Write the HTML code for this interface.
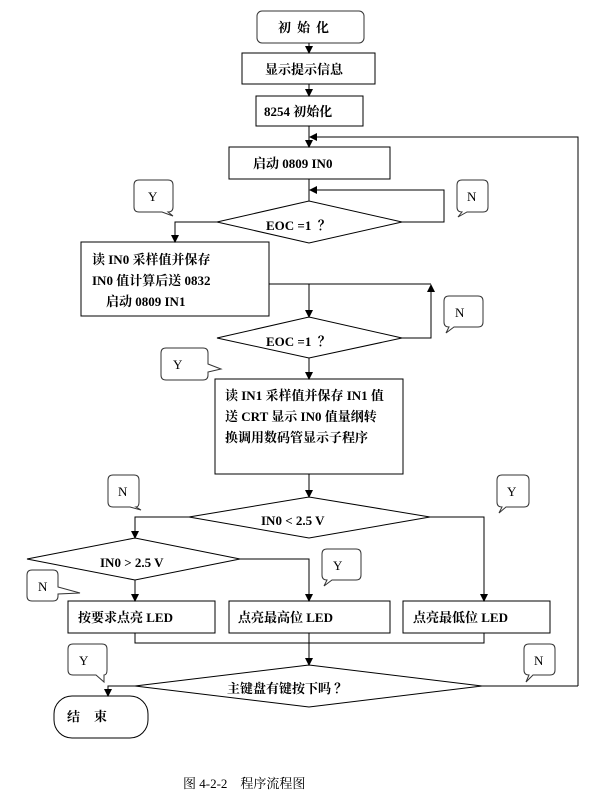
<!DOCTYPE html>
<html><head><meta charset="utf-8"><style>
html,body{margin:0;padding:0;background:#fff;}
svg{display:block;}
text{font-family:"Liberation Serif","Noto Serif CJK SC",serif;font-size:13px;fill:#000;}
.b{font-weight:bold;}
</style></head><body>
<svg width="611" height="812" viewBox="0 0 611 812" xmlns="http://www.w3.org/2000/svg">
<defs><marker id="a" markerWidth="8" markerHeight="8" refX="7" refY="4" orient="auto" markerUnits="userSpaceOnUse"><path d="M0,0 L8,4 L0,8 z" fill="#000"/></marker></defs>
<g fill="none" stroke="#000" stroke-width="1">
<rect x="257" y="11" width="107" height="32" rx="5" stroke="#333"/>
<rect x="242" y="53" width="133" height="31"/>
<rect x="256" y="96" width="107" height="30"/>
<rect x="229" y="147" width="161" height="32"/>
<polygon points="217,222 309,201 402,222 309,243"/>
<rect x="81" y="242" width="188" height="74"/>
<polygon points="217,338 309,317 402,338 309,358"/>
<rect x="215" y="379" width="188" height="95"/>
<polygon points="189,517 309,497 430,517 309,538"/>
<polygon points="27,559 135,538 240,559 135,580"/>
<rect x="68" y="601" width="147" height="32"/>
<rect x="229" y="601" width="161" height="32"/>
<rect x="403" y="601" width="147" height="32"/>
<polygon points="135,686 309,665 482,686 309,707"/>
<rect x="54" y="696" width="94" height="42" rx="18"/>
<line x1="309" y1="43" x2="309" y2="53" marker-end="url(#a)"/>
<line x1="309" y1="84" x2="309" y2="96" marker-end="url(#a)"/>
<line x1="309" y1="126" x2="309" y2="147" marker-end="url(#a)"/>
<polyline points="578,686 578,137 310,137" marker-end="url(#a)"/>
<line x1="309" y1="179" x2="309" y2="201"/>
<polyline points="402,222 444,222 444,190 310,190" marker-end="url(#a)"/>
<polyline points="217,222 175,222 175,242" marker-end="url(#a)"/>
<polyline points="269,284 309,284 309,317" marker-end="url(#a)"/>
<line x1="309" y1="284" x2="431" y2="284"/>
<polyline points="402,338 431,338 431,285" marker-end="url(#a)"/>
<line x1="309" y1="358" x2="309" y2="379" marker-end="url(#a)"/>
<line x1="309" y1="474" x2="309" y2="497" marker-end="url(#a)"/>
<polyline points="189,517 135,517 135,538" marker-end="url(#a)"/>
<polyline points="430,517 484,517 484,601" marker-end="url(#a)"/>
<polyline points="240,559 309,559 309,601" marker-end="url(#a)"/>
<line x1="135" y1="580" x2="135" y2="601" marker-end="url(#a)"/>
<polyline points="135,633 135,643 484,643 484,633"/>
<line x1="309" y1="633" x2="309" y2="665" marker-end="url(#a)"/>
<polyline points="135,686 108,686 108,696" marker-end="url(#a)"/>
<line x1="482" y1="686" x2="578" y2="686"/>
</g>
<g fill="#fff" stroke="#333" stroke-width="1">
<path d="M139,180 H168 Q173,180 173,185 V207 Q173,212 168,212 L173,216 L162,212 H139 Q134,212 134,207 V185 Q134,180 139,180 Z"/>
<path d="M462,180 H483 Q488,180 488,185 V207 Q488,212 483,212 H467 L458,217 L462,212 Q457,212 457,207 V185 Q457,180 462,180 Z"/>
<path d="M449,296 H478 Q483,296 483,301 V322 Q483,327 478,327 H454 L446,333 L449,327 Q444,327 444,322 V301 Q444,296 449,296 Z"/>
<path d="M166,348 H203 Q208,348 208,353 V364 L221,369 L208,372 V375 Q208,380 203,380 H166 Q161,380 161,375 V353 Q161,348 166,348 Z"/>
<path d="M113,475 H134 Q139,475 139,480 V502 Q139,507 136,507 L141,510 L130,507 H113 Q108,507 108,502 V480 Q108,475 113,475 Z"/>
<path d="M502,475 H524 Q529,475 529,480 V502 Q529,507 524,507 H506 L499,513 L502,507 Q497,507 497,502 V480 Q497,475 502,475 Z"/>
<path d="M327,549 H356 Q361,549 361,554 V575 Q361,580 356,580 H332 L324,586 L327,580 Q322,580 322,575 V554 Q322,549 327,549 Z"/>
<path d="M32,570 H53 Q58,570 58,575 V587 L80,593 L58,594 V596 Q58,601 53,601 H32 Q27,601 27,596 V575 Q27,570 32,570 Z"/>
<path d="M73,644 H102 Q107,644 107,649 V670 Q107,675 104,675 L104,682 L96,675 H73 Q68,675 68,670 V649 Q68,644 73,644 Z"/>
<path d="M529,644 H550 Q555,644 555,649 V670 Q555,675 550,675 H533 L526,682 L529,675 Q524,675 524,670 V649 Q524,644 529,644 Z"/>
</g>
<g>
<text class="b" x="278" y="32" letter-spacing="6">初始化</text>
<text class="b" x="265" y="74">显示提示信息</text>
<text class="b" x="264" y="116">8254 初始化</text>
<text class="b" x="253" y="168">启动 0809 IN0</text>
<text class="b" x="266" y="230">EOC&#160;=1&#160;&#160;？</text>
<text class="b" x="92" y="264">读 IN0 采样值并保存</text>
<text class="b" x="92" y="285">IN0 值计算后送 0832</text>
<text class="b" x="106" y="306">启动 0809 IN1</text>
<text class="b" x="266" y="346">EOC&#160;=1&#160;&#160;？</text>
<text class="b" x="225" y="400">读 IN1 采样值并保存 IN1 值</text>
<text class="b" x="225" y="421">送 CRT 显示 IN0 值量纲转</text>
<text class="b" x="225" y="442">换调用数码管显示子程序</text>
<text class="b" x="261" y="525">IN0 &lt; 2.5 V</text>
<text class="b" x="100" y="567">IN0 &gt; 2.5 V</text>
<text class="b" x="78" y="622">按要求点亮 LED</text>
<text class="b" x="238" y="622">点亮最高位 LED</text>
<text class="b" x="413" y="622">点亮最低位 LED</text>
<text class="b" x="227" y="693">主键盘有键按下吗 ？</text>
<text class="b" x="67" y="721" font-size="14" letter-spacing="14">结束</text>
<text x="148" y="201">Y</text>
<text x="467" y="201">N</text>
<text x="455" y="317">N</text>
<text x="173" y="369">Y</text>
<text x="118" y="496">N</text>
<text x="507" y="496">Y</text>
<text x="333" y="570">Y</text>
<text x="38" y="591">N</text>
<text x="79" y="665">Y</text>
<text x="534" y="665">N</text>
<text x="183" y="788" font-family="'Liberation Serif','Noto Sans CJK SC',sans-serif">图 4-2-2　程序流程图</text>
</g>
</svg>
</body></html>
